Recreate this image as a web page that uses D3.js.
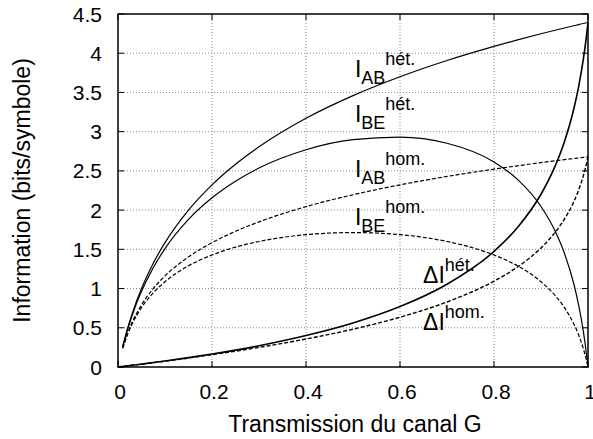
<!DOCTYPE html>
<html>
<head>
<meta charset="utf-8">
<script src="https://cdn.jsdelivr.net/npm/d3@7"></script>
<style>
body { margin: 0; background: #fff; }
text { font-family: "Liberation Sans", Arial, sans-serif; fill: #000; }
</style>
</head>
<body>
<script>
// transmission values G at which the I curves were read
var gI = [0.01, 0.02, 0.03, 0.05, 0.075, 0.1, 0.15, 0.2, 0.25, 0.3, 0.4, 0.5, 0.6, 0.7, 0.8, 0.85, 0.9, 0.93, 0.95, 0.97, 0.98, 0.99, 0.995, 1]
var iABhet = [0.263, 0.485, 0.678, 1.0, 1.322, 1.585, 2.0, 2.322, 2.585, 2.807, 3.17, 3.459, 3.7, 3.907, 4.087, 4.17, 4.248, 4.293, 4.322, 4.35, 4.365, 4.379, 4.385, 4.392]
var iBEhet = [0.256, 0.471, 0.657, 0.964, 1.266, 1.509, 1.881, 2.157, 2.369, 2.536, 2.769, 2.898, 2.93, 2.852, 2.614, 2.392, 2.046, 1.733, 1.447, 1.055, 0.793, 0.458, 0.249, 0]
var iABhom = [0.243, 0.424, 0.569, 0.792, 1.0, 1.161, 1.404, 1.585, 1.73, 1.85, 2.044, 2.196, 2.322, 2.429, 2.522, 2.565, 2.605, 2.628, 2.643, 2.657, 2.665, 2.672, 2.675, 2.679]
var iBEhom = [0.236, 0.41, 0.547, 0.756, 0.945, 1.087, 1.29, 1.428, 1.528, 1.6, 1.687, 1.714, 1.687, 1.6, 1.428, 1.29, 1.087, 0.912, 0.756, 0.547, 0.41, 0.236, 0.128, 0]

// the difference curves start at G = 0
var gD = [0, 0.01, 0.03, 0.05, 0.1, 0.15, 0.2, 0.3, 0.4, 0.5, 0.6, 0.7, 0.8, 0.85, 0.9, 0.93, 0.95, 0.97, 0.98, 0.99, 0.995, 1]
var dIhet = [0, 0.007, 0.022, 0.037, 0.076, 0.119, 0.165, 0.271, 0.401, 0.561, 0.77, 1.055, 1.473, 1.778, 2.202, 2.56, 2.875, 3.295, 3.572, 3.921, 4.136, 4.392]
var dIhom = [0, 0.007, 0.022, 0.036, 0.074, 0.114, 0.157, 0.25, 0.357, 0.482, 0.635, 0.829, 1.094, 1.275, 1.518, 1.716, 1.887, 2.11, 2.255, 2.436, 2.547, 2.679]

var xTicks = [0, 0.2, 0.4, 0.6, 0.8, 1]
var yTicks = [0, 0.5, 1, 1.5, 2, 2.5, 3, 3.5, 4, 4.5]

var W = 593, H = 439
var margin = { left: 118, top: 14, right: 5, bottom: 72 }
var iw = W - margin.left - margin.right
var ih = H - margin.top - margin.bottom

var svg = d3.select("body").append("svg")
	.attr("width", W)
	.attr("height", H)
var g = svg.append("g").attr("transform", "translate(" + margin.left + "," + margin.top + ")")

var x = d3.scaleLinear().domain([0, 1]).range([0, iw])
var y = d3.scaleLinear().domain([0, 4.5]).range([ih, 0])

// dotted grid
g.append("g").selectAll("line").data(xTicks.slice(1, -1)).enter().append("line")
	.attr("x1", (d) => x(d)).attr("x2", (d) => x(d))
	.attr("y1", 0).attr("y2", ih)
	.attr("stroke", "#888").attr("stroke-width", 1).attr("stroke-dasharray", "1,2")
g.append("g").selectAll("line").data(yTicks.slice(1, -1)).enter().append("line")
	.attr("y1", (d) => y(d)).attr("y2", (d) => y(d))
	.attr("x1", 0).attr("x2", iw)
	.attr("stroke", "#888").attr("stroke-width", 1).attr("stroke-dasharray", "1,2")

// inward ticks on all four sides
var tk = 6
var ticks = g.append("g").attr("stroke", "#000").attr("stroke-width", 1)
xTicks.forEach((d) => {
	ticks.append("line").attr("x1", x(d)).attr("x2", x(d)).attr("y1", ih).attr("y2", ih - tk)
	ticks.append("line").attr("x1", x(d)).attr("x2", x(d)).attr("y1", 0).attr("y2", tk)
})
yTicks.forEach((d) => {
	ticks.append("line").attr("y1", y(d)).attr("y2", y(d)).attr("x1", 0).attr("x2", tk)
	ticks.append("line").attr("y1", y(d)).attr("y2", y(d)).attr("x1", iw).attr("x2", iw - tk)
})

// tick labels
g.append("g").selectAll("text").data(xTicks).enter().append("text")
	.attr("x", (d) => x(d) + 2).attr("y", ih + 32)
	.attr("text-anchor", "middle").attr("font-size", 21)
	.text((d) => d3.format("")(d))
g.append("g").selectAll("text").data(yTicks).enter().append("text")
	.attr("x", -16).attr("y", (d) => y(d) + 7.5)
	.attr("text-anchor", "end").attr("font-size", 21)
	.text((d) => d3.format("")(d))

// axis titles
svg.append("text")
	.attr("x", margin.left + iw / 2 + 2).attr("y", 432)
	.attr("text-anchor", "middle").attr("font-size", 23)
	.text("Transmission du canal G")
svg.append("text")
	.attr("transform", "translate(30," + (margin.top + ih / 2) + ") rotate(-90)")
	.attr("text-anchor", "middle").attr("font-size", 23)
	.text("Information (bits/symbole)")

// curves
var series = [
	{ g: gI, v: iABhet, dash: null, w: 1.2 },
	{ g: gI, v: iBEhet, dash: null, w: 1.2 },
	{ g: gI, v: iABhom, dash: "4,2", w: 1.2 },
	{ g: gI, v: iBEhom, dash: "4,2", w: 1.2 },
	{ g: gD, v: dIhet, dash: null, w: 1.6 },
	{ g: gD, v: dIhom, dash: "4,2", w: 1.4 }
]
var line = d3.line()
	.x((d) => x(d[0]))
	.y((d) => y(d[1]))
	.curve(d3.curveMonotoneX)
series.forEach((s) => {
	g.append("path")
		.attr("d", line(s.g.map((gv, i) => [gv, s.v[i]])))
		.attr("fill", "none")
		.attr("stroke", "#000")
		.attr("stroke-width", s.w)
		.attr("stroke-dasharray", s.dash)
})

// frame
g.append("rect")
	.attr("width", iw).attr("height", ih)
	.attr("fill", "none").attr("stroke", "#000").attr("stroke-width", 1.5)

// curve labels (main letter, subscript, superscript)
var labels = [
	{ gx: 0.504, iy: 3.70, main: "I", sub: "AB", sup: "hét." },
	{ gx: 0.504, iy: 3.12, main: "I", sub: "BE", sup: "hét." },
	{ gx: 0.504, iy: 2.42, main: "I", sub: "AB", sup: "hom." },
	{ gx: 0.504, iy: 1.81, main: "I", sub: "BE", sup: "hom." },
	{ gx: 0.649, iy: 1.07, main: "\u0394I", sub: "", sup: "hét." },
	{ gx: 0.649, iy: 0.47, main: "\u0394I", sub: "", sup: "hom." }
]
labels.forEach((l) => {
	var t = g.append("text")
		.attr("x", x(l.gx)).attr("y", y(l.iy))
		.attr("font-size", 23)
	t.append("tspan").text(l.main)
	if (l.sub) {
		t.append("tspan").attr("dy", 7).attr("font-size", 18).text(l.sub)
		t.append("tspan").attr("dy", -19).attr("font-size", 18).text(l.sup)
	} else {
		t.append("tspan").attr("dy", -12).attr("font-size", 18).text(l.sup)
	}
})
</script>
</body>
</html>
